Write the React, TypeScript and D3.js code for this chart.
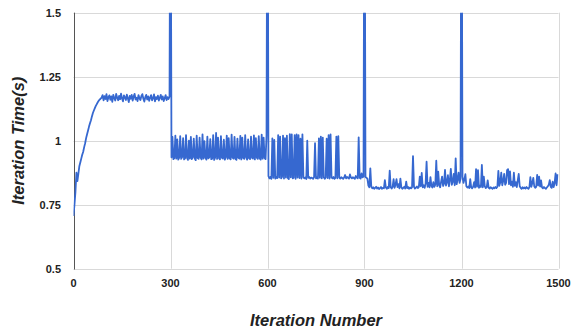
import { useMemo } from "react";
import * as d3 from "d3";

/* ------------------------------------------------------------------ */
/*  Data (iteration time in seconds, one reading every 3 iterations)   */
/* ------------------------------------------------------------------ */

const SAMPLE_STEP = 3;
const PHASE_STARTS = [0, 300, 600, 900, 1200];

// warm-up ramp then plateau
const phase0 = [
  0.706, 0.75, 0.8, 0.875, 0.842, 0.87, 0.9, 0.915, 0.93, 0.945,
  0.957, 0.975, 0.99, 1.01, 1.025, 1.04, 1.055, 1.068, 1.08, 1.095,
  1.108, 1.118, 1.127, 1.136, 1.143, 1.15, 1.156, 1.161, 1.164, 1.168,
  1.178, 1.158, 1.174, 1.163, 1.182, 1.155, 1.17, 1.177, 1.16, 1.173,
  1.152, 1.179, 1.166, 1.157, 1.183, 1.168, 1.158, 1.175, 1.162, 1.184,
  1.165, 1.154, 1.177, 1.169, 1.159, 1.18, 1.166, 1.151, 1.175, 1.164,
  1.179, 1.157, 1.172, 1.183, 1.161, 1.168, 1.155, 1.178, 1.166, 1.159,
  1.175, 1.182, 1.164, 1.153, 1.17, 1.179, 1.161, 1.173, 1.156, 1.168,
  1.178, 1.158, 1.166, 1.181, 1.154, 1.17, 1.163, 1.176, 1.157, 1.168,
  1.179, 1.161, 1.173, 1.155, 1.166, 1.178, 1.159, 1.17, 1.163, 1.172,
];

const phase1 = [
  2.4,
  0.935, 1.015, 0.928, 0.932, 1.02, 0.93, 1.005, 0.926, 0.934, 1.018,
  0.929, 0.936, 1.01, 0.927, 0.931, 1.022, 0.933, 0.925, 1.0, 0.93,
  1.015, 0.928, 0.935, 1.008, 0.93, 0.924, 1.02, 0.932, 0.929, 1.012,
  0.934, 0.927, 1.025, 0.93, 0.998, 0.933, 0.926, 1.016, 0.931, 0.935,
  1.006, 0.928, 0.93, 1.022, 0.925, 0.934, 1.03, 0.929, 1.012, 0.932,
  0.927, 1.018, 0.933, 0.93, 1.004, 0.926, 0.935, 1.02, 0.929, 1.01,
  0.931, 0.927, 1.024, 0.934, 0.93, 1.015, 0.928, 0.925, 1.008, 0.933,
  0.93, 1.019, 0.927, 1.012, 0.932, 0.929, 1.022, 0.935, 0.926, 1.005,
  0.931, 0.928, 1.016, 0.933, 0.93, 1.021, 0.927, 1.01, 0.934, 0.929,
  1.018, 0.931, 0.926, 1.024, 0.93, 1.012, 0.933, 0.928, 1.02,
];

const phase2 = [
  2.4, 0.862, 0.853, 0.858, 0.851, 1.009, 0.855, 1.003, 0.852, 0.857,
  0.854, 1.022, 0.856, 1.016, 0.853, 0.858, 1.02, 0.852, 1.01, 0.856,
  1.02, 0.854, 0.85, 1.026, 0.857, 1.025, 0.853, 0.855, 1.022, 0.851,
  1.025, 0.856, 1.022, 0.854, 1.008, 0.852, 1.025, 0.857, 0.853, 0.856,
  0.85, 1.0, 0.855, 0.858, 0.852, 0.856, 0.854, 0.851, 0.857, 0.99,
  0.853, 0.856, 0.852, 1.009, 0.855, 1.016, 0.853, 1.012, 0.857, 0.851,
  0.856, 1.008, 0.854, 1.022, 0.852, 1.025, 0.856, 0.853, 0.858, 0.851,
  0.855, 1.016, 0.853, 1.018, 0.856, 0.852, 0.857, 0.854, 0.851, 0.856,
  0.866, 0.853, 0.858, 0.855, 0.852, 0.868, 0.856, 0.853, 0.857, 0.854,
  0.851, 0.862, 0.856, 0.853, 1.013, 0.855, 0.852, 0.872, 0.857, 0.86,
];

const phase3 = [
  2.4, 0.858, 0.855, 0.852, 0.825, 0.818, 0.892, 0.82, 0.814, 0.818,
  0.812, 0.816, 0.82, 0.813, 0.817, 0.811, 0.815, 0.819, 0.812, 0.816,
  0.814, 0.846, 0.817, 0.812, 0.819, 0.815, 0.883, 0.818, 0.813, 0.82,
  0.85, 0.816, 0.828, 0.85, 0.819, 0.83, 0.814, 0.852, 0.818, 0.812,
  0.816, 0.82, 0.813, 0.84, 0.815, 0.819, 0.812, 0.817, 0.814, 0.818,
  0.94, 0.82, 0.813, 0.817, 0.821, 0.815, 0.819, 0.86, 0.822, 0.874,
  0.818, 0.826, 0.816, 0.832, 0.918, 0.82, 0.835, 0.818, 0.858, 0.823,
  0.817, 0.838, 0.82, 0.828, 0.922, 0.822, 0.879, 0.826, 0.818, 0.84,
  0.86, 0.823, 0.832, 0.886, 0.825, 0.838, 0.865, 0.822, 0.845, 0.89,
  0.828, 0.84, 0.87, 0.826, 0.931, 0.83, 0.848, 0.875, 0.835, 0.85,
];

const phase4 = [
  2.4, 0.86, 0.835, 0.848, 0.869, 0.822, 0.817, 0.821, 0.815, 0.85,
  0.818, 0.814, 0.82, 0.838, 0.817, 0.889, 0.82, 0.885, 0.816, 0.824,
  0.819, 0.905, 0.818, 0.86, 0.822, 0.815, 0.819, 0.845, 0.816, 0.813,
  0.818, 0.815, 0.812, 0.817, 0.814, 0.819, 0.815, 0.82, 0.882, 0.824,
  0.838, 0.875, 0.826, 0.842, 0.87, 0.828, 0.835, 0.885, 0.889, 0.83,
  0.88, 0.826, 0.84, 0.82, 0.875, 0.824, 0.838, 0.819, 0.845, 0.87,
  0.822, 0.816, 0.812, 0.818, 0.814, 0.817, 0.813, 0.819, 0.815, 0.812,
  0.818, 0.858, 0.82, 0.835, 0.855, 0.822, 0.816, 0.82, 0.866, 0.825,
  0.86, 0.821, 0.845, 0.818, 0.814, 0.819, 0.815, 0.812, 0.817, 0.822,
  0.828, 0.846, 0.82, 0.816, 0.84, 0.819, 0.835, 0.872, 0.826, 0.869,
];

const PHASES = [phase0, phase1, phase2, phase3, phase4];

const X_TICKS = [0, 300, 600, 900, 1200, 1500];
const Y_TICKS = [0.5, 0.75, 1, 1.25, 1.5];
const Y_TICK_LABELS = ["0.5", "0.75", "1", "1.25", "1.5"];

const X_TITLE = "Iteration Number";
const Y_TITLE = "Iteration Time(s)";

/* ------------------------------------------------------------------ */
/*  Layout                                                            */
/* ------------------------------------------------------------------ */

const W = 573;
const H = 329;
const PLOT = { left: 73.5, right: 558.5, top: 12.7, bottom: 268.7 };
const FONT = "Arial, 'Liberation Sans', sans-serif";
const LINE_COLOR = "#3668d0";

interface Pt {
  x: number;
  y: number;
}

export default function App() {
  const x = useMemo(
    () => d3.scaleLinear().domain([0, 1500]).range([PLOT.left, PLOT.right]),
    [],
  );
  const y = useMemo(
    () => d3.scaleLinear().domain([0.5, 1.5]).range([PLOT.bottom, PLOT.top]),
    [],
  );

  const points = useMemo(() => {
    const out: Pt[] = [];
    PHASES.forEach((vals, p) => {
      vals.forEach((v, i) => out.push({ x: PHASE_STARTS[p] + i * SAMPLE_STEP, y: v }));
    });
    return out;
  }, []);

  const linePath = d3
    .line<Pt>()
    .x((d) => x(d.x))
    .y((d) => y(d.y))(points);

  const crisp = (v: number) => Math.round(v) + 0.5;

  return (
    <svg
      width={W}
      height={H}
      style={{ position: "absolute", left: 0, top: 0, background: "#fff" }}
    >
      <defs>
        <clipPath id="plot-clip">
          <rect
            x={PLOT.left}
            y={PLOT.top}
            width={PLOT.right - PLOT.left}
            height={PLOT.bottom - PLOT.top}
          />
        </clipPath>
      </defs>

      {/* gridlines */}
      {Y_TICKS.map((t) => (
        <line
          key={`gy${t}`}
          x1={PLOT.left}
          x2={PLOT.right}
          y1={crisp(y(t))}
          y2={crisp(y(t))}
          stroke="#d9d9d9"
          strokeWidth={1}
        />
      ))}
      {X_TICKS.map((t) => (
        <line
          key={`gx${t}`}
          x1={crisp(x(t))}
          x2={crisp(x(t))}
          y1={PLOT.top}
          y2={PLOT.bottom}
          stroke="#d9d9d9"
          strokeWidth={1}
        />
      ))}

      {/* left axis line */}
      <line
        x1={crisp(PLOT.left)}
        x2={crisp(PLOT.left)}
        y1={PLOT.top}
        y2={crisp(PLOT.bottom)}
        stroke="#555"
        strokeWidth={1}
      />

      {/* series */}
      <path
        d={linePath ?? ""}
        fill="none"
        stroke={LINE_COLOR}
        strokeWidth={1.8}
        strokeLinejoin="round"
        clipPath="url(#plot-clip)"
      />

      {/* y tick labels */}
      {Y_TICKS.map((t, i) => (
        <text
          key={`ly${t}`}
          x={61}
          y={y(t)}
          textAnchor="end"
          dominantBaseline="central"
          fontFamily={FONT}
          fontWeight="bold"
          fontSize={11}
          fill="#222"
        >
          {Y_TICK_LABELS[i]}
        </text>
      ))}

      {/* x tick labels */}
      {X_TICKS.map((t) => (
        <text
          key={`lx${t}`}
          x={x(t)}
          y={287}
          textAnchor="middle"
          fontFamily={FONT}
          fontWeight="bold"
          fontSize={11}
          fill="#222"
        >
          {t}
        </text>
      ))}

      {/* axis titles */}
      <text
        x={(PLOT.left + PLOT.right) / 2}
        y={326}
        textAnchor="middle"
        fontFamily={FONT}
        fontWeight="bold"
        fontStyle="italic"
        fontSize={16.5}
        fill="#222"
      >
        {X_TITLE}
      </text>
      <text
        transform={`translate(24, ${(PLOT.top + PLOT.bottom) / 2}) rotate(-90)`}
        textAnchor="middle"
        fontFamily={FONT}
        fontWeight="bold"
        fontStyle="italic"
        fontSize={16.5}
        fill="#222"
      >
        {Y_TITLE}
      </text>
    </svg>
  );
}
